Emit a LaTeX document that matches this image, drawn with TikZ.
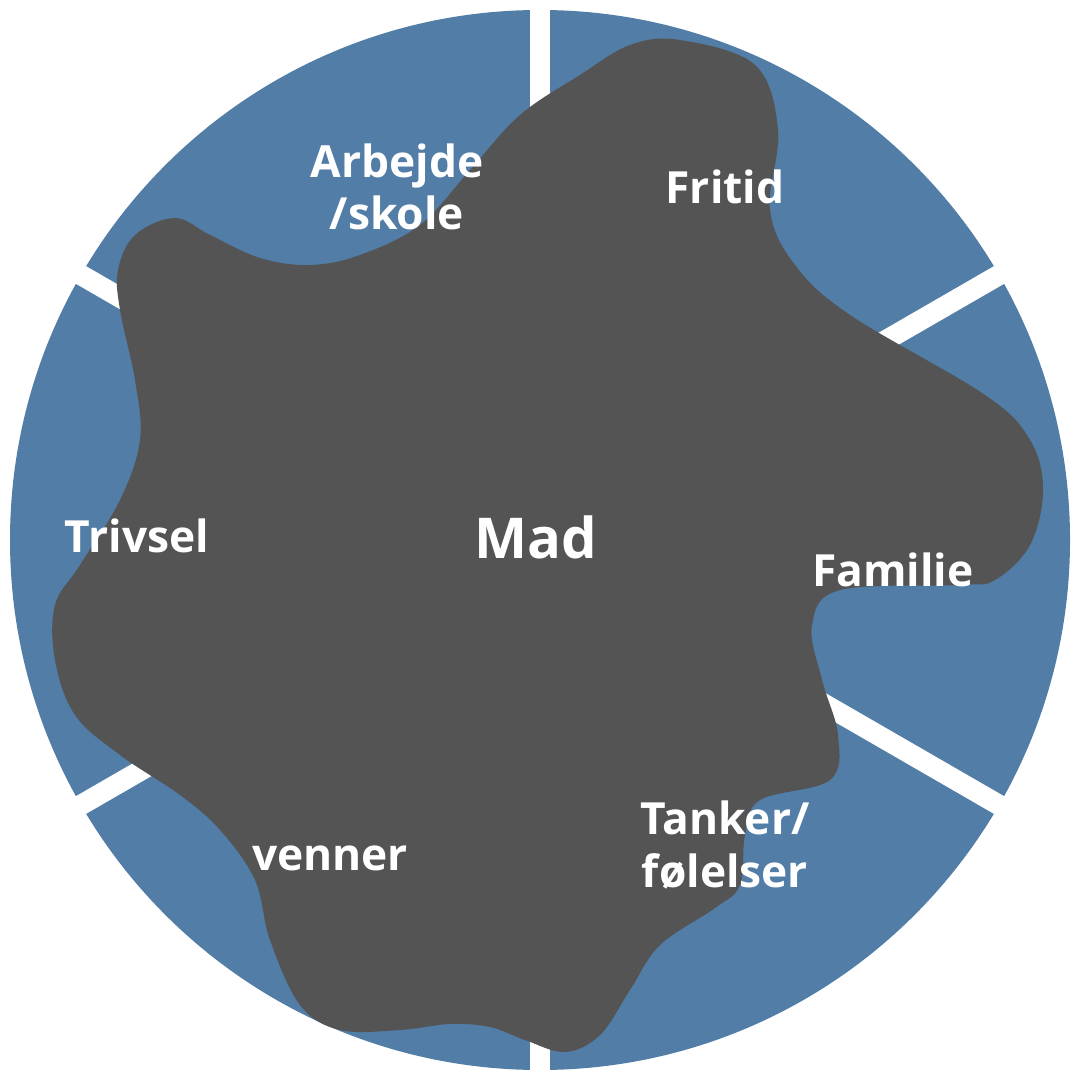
\documentclass[tikz,border=0pt]{standalone}
\usepackage{fontspec}
\setmainfont{Open Sans}
\definecolor{wblue}{HTML}{517DA6}
\definecolor{blobgray}{HTML}{545454}
\tikzset{lbl/.style={text=white,font=\bfseries\fontsize{12.6}{15}\selectfont,align=center,inner sep=0pt},
gap/.style={white,line width=5.8pt}}
\begin{document}
\begin{tikzpicture}[x=0.01cm,y=-0.01cm]
\useasboundingbox (0,0) rectangle (1080,1080);
\coordinate (c) at (540,540);
\fill[wblue] (c) circle[radius=530];
\foreach \a in {90,30,-30,-90,-150,150}
  \draw[gap] (c) -- ++(\a:-560);
\fill[blobgray] plot[smooth cycle,tension=0.6] coordinates {
(680,40) (755,65) (778,130) (770,210) (795,265) (850,315) (985,395) (1030,440) (1043,490) (1030,545) (995,580) (960,585) (840,590) (812,625) (822,680) (838,735) (830,780) (760,800) (745,835) (740,885) (715,908) (660,945) (630,990) (600,1035) (565,1052) (525,1040) (490,1027) (450,1024) (400,1030) (340,1030) (300,1005) (270,940) (255,880) (220,830) (180,795) (120,755) (75,715) (55,660) (55,605) (80,565) (120,500) (140,440) (135,380) (120,310) (118,270) (135,235) (175,218) (210,235) (260,258) (310,265) (360,255) (420,225) (470,170) (520,115) (580,75) (630,45)};
\node[lbl,font=\bfseries\fontsize{16}{19}\selectfont] (mad) at (536,537) {Mad};
\node[lbl] (arb) at (397,187) {Arbejde\\/skole};
\node[lbl] (fri) at (725,187) {Fritid};
\node[lbl] (fam) at (893,570) {Familie};
\node[lbl] (tan) at (725,845) {Tanker/\\følelser};
\node[lbl] (ven) at (330,858) {venner};
\node[lbl] (tri) at (137,536) {Trivsel};
\end{tikzpicture}
\end{document}
